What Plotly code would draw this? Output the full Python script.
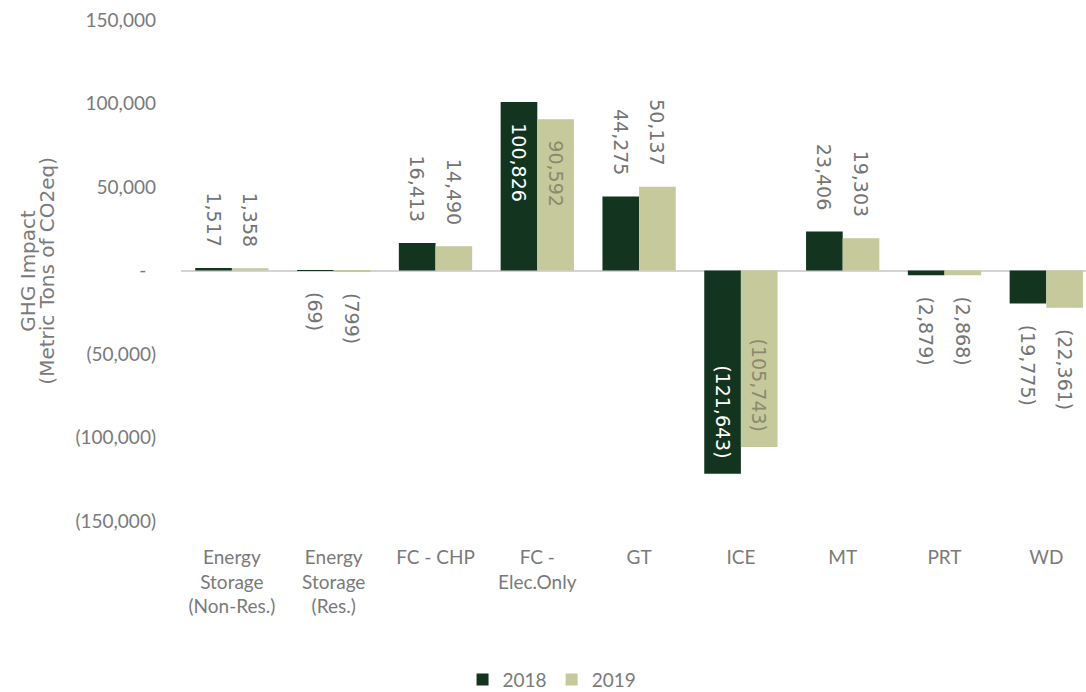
import plotly.graph_objects as go

categories = ["Energy<br>Storage<br>(Non-Res.)", "Energy<br>Storage<br>(Res.)", "FC - CHP",
              "FC -<br>Elec.Only", "GT", "ICE", "MT", "PRT", "WD"]
values_2018 = [1517, -69, 16413, 100826, 44275, -121643, 23406, -2879, -19775]
values_2019 = [1358, -799, 14490, 90592, 50137, -105743, 19303, -2868, -22361]
inside_2018 = [False, False, False, True, False, True, False, False, False]
inside_2019 = [False, False, False, True, False, True, False, False, False]
tick_vals = [150000, 100000, 50000, 0, -50000, -100000, -150000]
tick_text = ["150,000", "100,000", "50,000", "-\u00a0\u00a0", "(50,000)", "(100,000)", "(150,000)"]
title_lines = ["GHG Impact", "(Metric Tons of CO2eq)"]

DARK = "#133520"
LIGHT = "#c5c99c"
GRAY = "#7a7a7a"
NB = "\u00a0"


def fmt(v):
    return f"{v:,}" if v >= 0 else f"({-v:,})"


def label(v, inside):
    s = fmt(v)
    if inside:
        return NB * 3 + s if v >= 0 else s + NB * 2
    return s + NB * 3 if v >= 0 else NB * 3 + s


def make_trace(name, vals, inside, color, inside_color):
    return go.Bar(
        name=name, x=categories, y=vals, marker=dict(color=color, line=dict(width=0)),
        text=[label(v, i) for v, i in zip(vals, inside)],
        textposition=["inside" if i else "outside" for i in inside],
        insidetextanchor="end",
        textangle=90,
        constraintext="none",
        cliponaxis=False,
        insidetextfont=dict(family="DejaVu Sans", size=19, color=inside_color),
        outsidetextfont=dict(family="DejaVu Sans", size=19, color="#747474"),
    )


fig = go.Figure()
fig.add_trace(make_trace("2018", values_2018, inside_2018, DARK, "#ffffff"))
fig.add_trace(make_trace("2019", values_2019, inside_2019, LIGHT, "#8a8a6e"))

title_x = [-0.170, -0.149]
annotations = [dict(text=t, xref="paper", yref="paper", x=x, y=0.5, xanchor="center",
                    yanchor="middle", textangle=-90, showarrow=False,
                    font=dict(family="DejaVu Sans", size=20, color=GRAY))
               for t, x in zip(title_lines, title_x)]

fig.update_layout(
    width=1086, height=692,
    margin=dict(l=181, r=0, t=20, b=171, autoexpand=False),
    paper_bgcolor="white", plot_bgcolor="white",
    barmode="group", bargap=0.28, bargroupgap=0,
    font=dict(family="Lato", size=19, color=GRAY),
    legend=dict(orientation="h", x=0.41, xanchor="center", yref="container", y=0.018,
                yanchor="middle",
                font=dict(family="Lato", size=19, color=GRAY), traceorder="normal",
                itemwidth=30),
    xaxis=dict(showline=False, showgrid=False, ticks="", ticklabelstandoff=23,
               automargin=False, range=[-0.5, 8.39],
               tickfont=dict(family="Lato", size=19, color=GRAY)),
    yaxis=dict(range=[-150000, 150000], tickvals=tick_vals, ticktext=tick_text,
               showgrid=False, showline=False, zeroline=True, zerolinecolor="#d4d4d4",
               zerolinewidth=2, ticks="", ticklabelstandoff=24, automargin=False,
               tickfont=dict(family="Lato", size=19, color=GRAY)),
    annotations=annotations,
)

fig.write_html("out.html")
